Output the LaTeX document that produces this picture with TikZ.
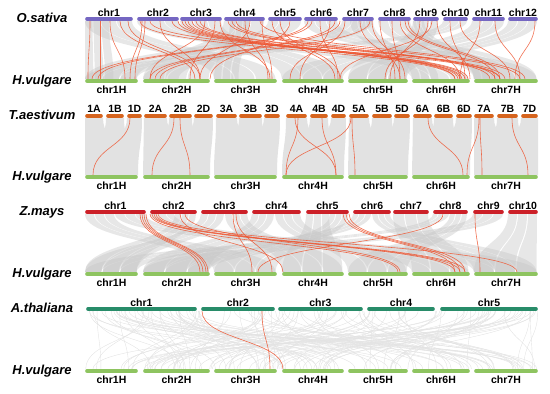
\documentclass[tikz,border=0pt]{standalone}
\usepackage{fontspec}
\setmainfont{Liberation Sans}
\usepackage{xcolor}

\definecolor{osat}{RGB}{117,103,194}
\definecolor{taes}{RGB}{214,100,30}
\definecolor{zmay}{RGB}{204,32,40}
\definecolor{atha}{RGB}{40,140,105}
\definecolor{hvul}{RGB}{142,196,96}
\definecolor{synred}{RGB}{238,86,50}
\definecolor{bandgray}{RGB}{196,196,196}
\definecolor{solidgray}{RGB}{226,226,226}

% curved link from a top position to a bottom position
\newcommand\synlink[5]{%
  \draw[#1] (#4,#2) .. controls (#4,{(#2+#3)/2}) and (#5,{(#2+#3)/2}) .. (#5,#3);}
% ribbon between a top interval and a bottom interval
\newcommand\synband[7]{%
  \fill[#1] (#4,#2) .. controls (#4,{(#2+#3)/2}) and (#6,{(#2+#3)/2}) .. (#6,#3)
    -- (#7,#3) .. controls (#7,{(#2+#3)/2}) and (#5,{(#2+#3)/2}) .. (#5,#2) -- cycle;}
% the same ribbon cut into three thinner blocks
\newcommand\splitband[7]{%
  \foreach \k in {0,1,2} {
    \pgfmathsetmacro\pa{#4+\k*(#5-#4)/3}
    \pgfmathsetmacro\pb{#4+(\k+1)*(#5-#4)/3-1}
    \pgfmathsetmacro\pc{#6+\k*(#7-#6)/3}
    \pgfmathsetmacro\pd{#6+(\k+1)*(#7-#6)/3-1.5}
    \synband{#1}{#2}{#3}{\pa}{\pb}{\pc}{\pd}
  }}
% barley row with its labels
\newcommand\barleyrow[2]{%
  \node[species] (#2-hv) at (42,#1+3.5) {H.vulgare};
  \foreach \n/\a/\b in {chr1H/85/138, chr2H/143/210, chr3H/214/277, chr4H/282/344,
                        chr5H/348/408, chr6H/412/470, chr7H/474/538} {
    \draw[chrbar, draw=hvul] (\a+2,#1) -- (\b-2,#1);
    \node[chrlab] (#2-\n) at ({(\a+\b)/2},#1+12.5) {\n};
  }}

\begin{document}
\begin{tikzpicture}[
  x=1pt, y=-1pt,
  chrbar/.style   = {line width=3.6pt, line cap=round},
  species/.style  = {font=\fontsize{13}{15}\selectfont\bfseries\itshape,
                     anchor=base, inner sep=0pt},
  chrlab/.style   = {font=\fontsize{10.5}{12}\selectfont\bfseries,
                     anchor=base, inner sep=0pt},
  band/.style     = {fill=bandgray, fill opacity=0.4},
  solidband/.style = {fill=solidgray},
  redlink/.style  = {draw=synred, line width=0.6pt, opacity=0.85},
  thinlink/.style = {draw=black!11, line width=0.4pt}
]
  \useasboundingbox (0,0) rectangle (550,394);

  % Row 1: O.sativa vs H.vulgare
  \foreach \a/\b/\c/\d in {85/133/214/277, 137/179/412/470, 180/222/282/344,
      224/265/143/210, 268/302/85/138, 304/338/474/538, 342/374/143/180,
      378/411/474/538, 413/439/348/408, 443/468/85/138, 472/505/282/344,
      508/538/348/408, 85/110/85/115, 350/374/412/440, 230/250/214/240,
      413/425/474/500}
    {\splitband{band}{21}{79}{\a}{\b}{\c}{\d}}
  \foreach \s/\t in {182/455, 185/460, 188/465, 192/468, 178/458, 172/462,
      196/500, 200/505, 150/500, 140/455, 228/490, 232/495, 236/520, 260/525,
      308/92, 312/98, 335/150, 340/155, 370/160, 90/88, 100/100, 110/125,
      120/195, 128/200, 142/130, 145/135, 160/200, 205/150, 215/190, 220/270,
      245/268, 262/272, 250/200, 272/335, 280/340, 290/210, 320/338, 330/300,
      345/290, 360/400, 372/405, 380/395, 392/400, 405/495, 408/500, 400/460,
      420/390, 428/385, 432/340, 437/470, 450/465, 460/510, 480/460, 495/520,
      535/515}
    {\synlink{redlink}{21}{79}{\s}{\t}}
  \node[species] (osat) at (42,22.5) {O.sativa};
  \foreach \n/\a/\b in {chr1/85/133, chr2/137/179, chr3/180/222, chr4/224/265,
      chr5/268/302, chr6/304/338, chr7/342/374, chr8/378/411, chr9/413/439,
      chr10/443/468, chr11/472/505, chr12/508/538} {
    \draw[chrbar, draw=osat] (\a+2,19) -- (\b-2,19);
    \node[chrlab] (os-\n) at ({(\a+\b)/2},16) {\n};
  }
  \barleyrow{81}{r1}

  % Row 2: T.aestivum vs H.vulgare
  \foreach \a/\b/\c/\d in {85/103/85/138, 106/124/85/138, 127/142/85/138,
      144/167/143/210, 169/192/143/210, 194/213/143/210,
      216/237/214/277, 239/262/214/277, 264/280/214/277,
      286/307/282/344, 310/328/282/344, 331/346/282/344,
      349/369/348/408, 372/392/348/408, 394/410/348/408,
      413/432/412/470, 434/453/412/470, 456/472/412/470,
      474/494/474/538, 497/518/474/538, 521/538/474/538}
    {\synband{solidband}{118}{175}{\a}{\b}{\c}{\d}}
  \foreach \s/\t in {130/93, 174/152, 180/190, 295/336, 322/336, 351/286,
      298/286, 352/355, 428/463, 479/467, 480/482, 512/528}
    {\synlink{redlink}{118}{175}{\s}{\t}}
  \node[species] (taes) at (42,119.5) {T.aestivum};
  \foreach \n/\a/\b in {1A/85/103, 1B/106/124, 1D/127/142, 2A/144/167,
      2B/169/192, 2D/194/213, 3A/216/237, 3B/239/262, 3D/264/280,
      4A/286/307, 4B/310/328, 4D/331/346, 5A/349/369, 5B/372/392,
      5D/394/410, 6A/413/432, 6B/434/453, 6D/456/472, 7A/474/494,
      7B/497/518, 7D/521/538} {
    \draw[chrbar, draw=taes] (\a+2,116) -- (\b-2,116);
    \node[chrlab] (ta-\n) at ({(\a+\b)/2},112.5) {\n};
  }
  \barleyrow{177}{r2}

  % Row 3: Z.mays vs H.vulgare
  \foreach \a/\b/\c/\d in {85/115/214/277, 115/146/412/470, 150/175/474/538,
      175/197/85/138, 201/225/85/138, 225/248/282/344, 252/275/143/210,
      275/301/348/408, 306/330/282/344, 330/349/214/277, 353/372/143/210,
      372/391/474/538, 393/429/412/470, 433/450/85/138, 450/468/348/408,
      473/504/143/210, 508/538/474/538}
    {\splitband{band}{214}{272}{\a}{\b}{\c}{\d}}
  \foreach \s/\t in {140/200, 142/203, 144/206, 146/208, 152/455, 154/460,
      156/465, 150/398, 158/517, 180/283, 185/400, 233/252, 236/272,
      343/455, 346/460, 349/465, 443/258, 475/480}
    {\synlink{redlink}{214}{272}{\s}{\t}}
  \node[species] (zmay) at (42,215.5) {Z.mays};
  \foreach \n/\a/\b in {chr1/85/146, chr2/150/197, chr3/201/248, chr4/252/301,
      chr5/306/349, chr6/353/391, chr7/393/429, chr8/433/468, chr9/473/504,
      chr10/508/538} {
    \draw[chrbar, draw=zmay] (\a+2,212) -- (\b-2,212);
    \node[chrlab] (zm-\n) at ({(\a+\b)/2},209) {\n};
  }
  \barleyrow{274}{r3}

  % Row 4: A.thaliana vs H.vulgare
  \pgfmathsetseed{42}
  \foreach \i in {1,...,140} {
    \pgfmathsetmacro\s{86+452*rnd}
    \pgfmathsetmacro\t{85+453*rnd}
    \synlink{thinlink}{311}{369}{\s}{\t}
  }
  \foreach \s/\t in {202/283, 262/270}
    {\synlink{redlink}{311}{369}{\s}{\t}}
  \node[species] (atha) at (42,312.5) {A.thaliana};
  \foreach \n/\a/\b in {chr1/86/197, chr2/201/275, chr3/278/363,
      chr4/367/435, chr5/440/538} {
    \draw[chrbar, draw=atha] (\a+2,309) -- (\b-2,309);
    \node[chrlab] (at-\n) at ({(\a+\b)/2},306) {\n};
  }
  \barleyrow{371}{r4}
\end{tikzpicture}
\end{document}
